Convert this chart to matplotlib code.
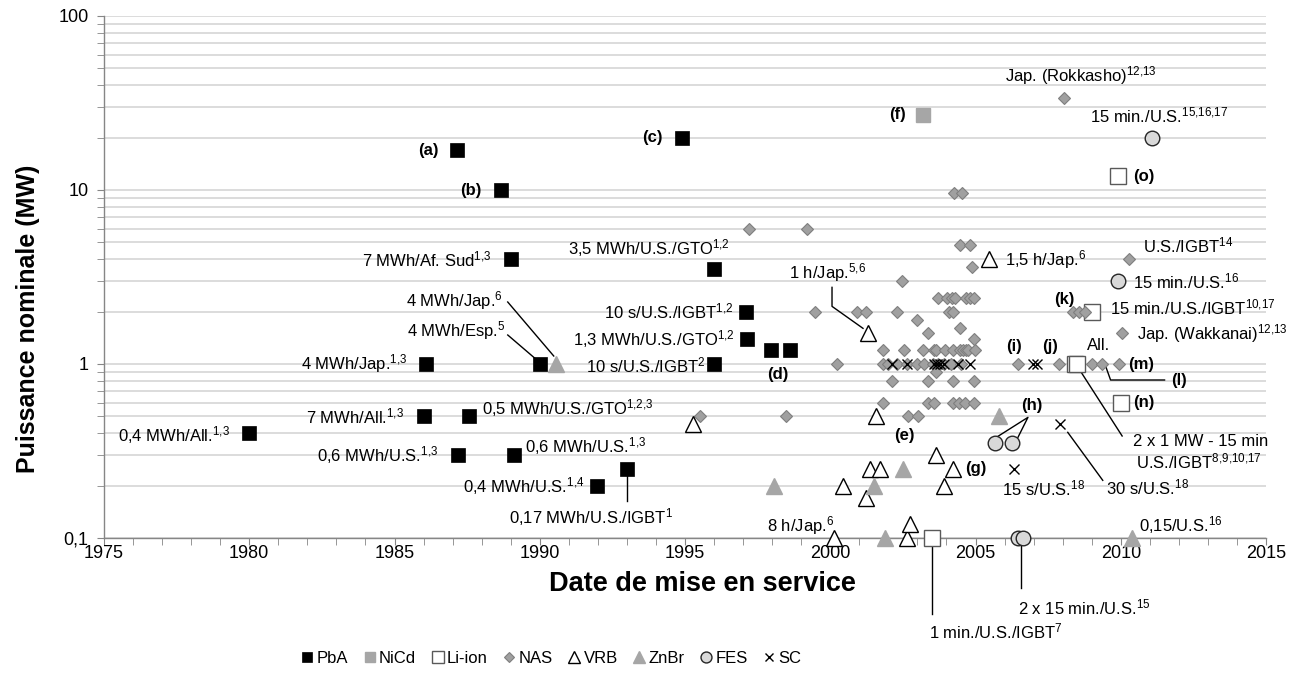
import numpy as np
import matplotlib.pyplot as plt
from matplotlib.ticker import FixedLocator, MultipleLocator, FuncFormatter, NullFormatter

plt.rcParams['font.family'] = ['Liberation Sans', 'DejaVu Sans']
plt.rcParams['mathtext.fontset'] = 'custom'
plt.rcParams['mathtext.rm'] = 'Liberation Sans'
plt.rcParams['mathtext.it'] = 'Liberation Sans:italic'
plt.rcParams['mathtext.bf'] = 'Liberation Sans:bold'

#--- donnees (annee de mise en service, puissance en MW) ---#
pba_x = [1980.0, 1986.0, 1986.1, 1987.15, 1987.17, 1987.57, 1988.65, 1989.0, 1989.1, 1990.0,
         1991.96, 1993.0, 1994.9, 1996.0, 1996.0, 1997.1, 1997.15, 1997.96, 1998.6]
pba_y = [0.4, 0.5, 1.0, 17, 0.3, 0.5, 10, 4.0, 0.3, 1.0,
         0.2, 0.25, 20, 3.5, 1.0, 2.0, 1.4, 1.2, 1.2]

nicd_x = [2003.2]
nicd_y = [27]

liion_x = [2003.5, 2008.43, 2008.5, 2009.0, 2009.92, 2010.0]
liion_y = [0.1, 1.0, 1.0, 2.0, 12, 0.6]

nas_x = [1995.5, 1997.2, 1998.46, 1999.2, 1999.47, 2000.22, 2000.93, 2001.23,
         2001.81, 2002.55, 2003.2, 2003.57, 2003.64, 2003.95, 2004.23, 2004.47, 2004.58, 2004.67, 2004.75, 2004.98,
         2001.81, 2002.0, 2002.31, 2002.65, 2002.98, 2003.23, 2003.55, 2003.7, 2003.9, 2004.15, 2004.5,
         2006.47, 2007.88, 2009.02, 2009.34, 2009.94,
         2003.64, 2002.11, 2003.37, 2004.21, 2004.95,
         2001.81, 2003.37, 2003.57, 2004.21, 2004.43, 2004.65, 2004.95,
         2002.68, 2003.03, 2004.95, 2003.37, 2010.03, 2004.47, 2002.98,
         2002.31, 2004.1, 2004.21, 2008.37, 2008.57, 2008.77,
         2003.7, 2004.03, 2004.18, 2004.29, 2004.67, 2004.81, 2004.95,
         2002.47, 2004.88, 2010.3, 2004.47, 2004.8, 2004.26, 2004.55, 2008.05]
nas_y = [0.5, 6.0, 0.5, 6.0, 2.0, 1.0, 2.0, 2.0,
         1.2, 1.2, 1.2, 1.2, 1.2, 1.2, 1.2, 1.2, 1.2, 1.2, 1.2, 1.2,
         1.0, 1.0, 1.0, 1.0, 1.0, 1.0, 1.0, 1.0, 1.0, 1.0, 1.0,
         1.0, 1.0, 1.0, 1.0, 1.0,
         0.9, 0.8, 0.8, 0.8, 0.8,
         0.6, 0.6, 0.6, 0.6, 0.6, 0.6, 0.6,
         0.5, 0.5, 1.4, 1.5, 1.5, 1.6, 1.8,
         2.0, 2.0, 2.0, 2.0, 2.0, 2.0,
         2.4, 2.4, 2.4, 2.4, 2.4, 2.4, 2.4,
         3.0, 3.6, 4.0, 4.8, 4.8, 9.6, 9.6, 34]

vrb_x = [1995.26, 2000.14, 2000.45, 2001.23, 2001.3, 2001.37, 2001.57, 2001.71,
         2002.65, 2002.74, 2003.64, 2003.9, 2004.23, 2005.47]
vrb_y = [0.45, 0.1, 0.2, 0.17, 1.5, 0.25, 0.5, 0.25,
         0.1, 0.12, 0.3, 0.2, 0.25, 4.0]

znbr_x = [1990.55, 1998.06, 2001.5, 2001.88, 2002.5, 2005.8, 2010.4]
znbr_y = [1.0, 0.2, 0.2, 0.1, 0.25, 0.5, 0.1]

fes_x = [2005.67, 2006.24, 2006.47, 2006.64, 2009.92, 2011.09]
fes_y = [0.35, 0.35, 0.1, 0.1, 3.0, 20]

sc_x = [2002.11, 2002.65, 2003.57, 2003.68, 2003.78, 2003.91, 2004.41, 2004.81,
        2006.99, 2007.12, 2006.32, 2007.9]
sc_y = [1.0, 1.0, 1.0, 1.0, 1.0, 1.0, 1.0, 1.0,
        1.0, 1.0, 0.25, 0.45]

#--- etiquettes: texte, point de reference, decalage (pixels), alignement, gras ---#
S = lambda s: r'$^{\mathregular{' + s.replace(',', '{,}') + '}}$'
labels = [
    ("(a)", 1987.15, 17, -18, -1, 'right', True),
    ("(b)", 1988.65, 10, -19, -1, 'right', True),
    ("7 MWh/Af. Sud" + S("1,3"), 1989.0, 4.0, -19, 0, 'right', False),
    ("(c)", 1994.9, 20, -19, 0, 'right', True),
    ("3,5 MWh/U.S./GTO" + S("1,2"), 1996.0, 3.5, 16, 21, 'right', False),
    ("1 h/Jap." + S("5,6"), 2001.3, 1.5, -2, 61, 'right', False),
    ("4 MWh/Jap." + S("6"), 1990.55, 1.0, -53, 63, 'right', False),
    ("4 MWh/Esp." + S("5"), 1990.0, 1.0, -34, 33, 'right', False),
    ("4 MWh/Jap." + S("1,3"), 1986.1, 1.0, -19, 0, 'right', False),
    ("7 MWh/All." + S("1,3"), 1986.0, 0.5, -19, 0, 'right', False),
    ("0,4 MWh/All." + S("1,3"), 1980.0, 0.4, -19, -2, 'right', False),
    ("0,6 MWh/U.S." + S("1,3"), 1987.17, 0.3, -19, 0, 'right', False),
    ("0,5 MWh/U.S./GTO" + S("1,2,3"), 1987.57, 0.5, 13, 8, 'left', False),
    ("0,6 MWh/U.S." + S("1,3"), 1989.1, 0.3, 11, 9, 'left', False),
    ("0,4 MWh/U.S." + S("1,4"), 1991.96, 0.2, -12, 0, 'right', False),
    ("0,17 MWh/U.S./IGBT" + S("1"), 1993.0, 0.25, -36, -48, 'center', False),
    ("10 s/U.S./IGBT" + S("1,2"), 1997.1, 2.0, -12, 0, 'right', False),
    ("1,3 MWh/U.S./GTO" + S("1,2"), 1997.15, 1.4, -13, 0, 'right', False),
    ("10 s/U.S./IGBT" + S("2"), 1996.0, 1.0, -8, -1, 'right', False),
    ("(d)", 1997.96, 1.2, 7, -24, 'center', True),
    ("8 h/Jap." + S("6"), 2000.14, 0.1, 0, 12, 'right', False),
    ("(f)", 2003.2, 27, -17, 0, 'right', True),
    ("Jap. (Rokkasho)" + S("12,13"), 2008.05, 34, 17, 22, 'center', False),
    ("15 min./U.S." + S("15,16,17"), 2011.09, 20, 7, 22, 'center', False),
    ("(o)", 2009.92, 12, 15, 0, 'left', True),
    ("1,5 h/Jap." + S("6"), 2005.47, 4.0, 16, 0, 'left', False),
    ("U.S./IGBT" + S("14"), 2010.3, 4.0, 14, 14, 'left', False),
    ("15 min./U.S." + S("16"), 2009.92, 3.0, 15, 0, 'left', False),
    ("(k)", 2009.0, 2.0, -17, 12, 'right', True),
    ("15 min./U.S./IGBT" + S("10,17"), 2009.0, 2.0, 18, 4, 'left', False),
    ("Jap. (Wakkanai)" + S("12,13"), 2010.03, 1.5, 15, 0, 'left', False),
    ("(i)", 2006.47, 1.0, -4, 18, 'center', True),
    ("(j)", 2006.99, 1.0, 17, 18, 'center', True),
    ("All.", 2008.43, 1.0, 23, 19, 'center', False),
    ("(m)", 2009.94, 1.0, 9, 0, 'left', True),
    ("(l)", 2009.34, 1.0, 70, -16, 'left', True),
    ("(n)", 2010.0, 0.6, 12, 0, 'left', True),
    ("2 x 1 MW - 15 min", 2008.43, 1.0, 125, -77, 'center', False),
    ("U.S./IGBT" + S("8,9,10,17"), 2008.43, 1.0, 124, -97, 'center', False),
    ("(h)", 2005.67, 0.35, 37, 38, 'center', True),
    ("(g)", 2004.23, 0.25, 12, 0, 'left', True),
    ("15 s/U.S." + S("18"), 2006.32, 0.25, 30, -20, 'center', False),
    ("30 s/U.S." + S("18"), 2007.9, 0.45, 46, -63, 'left', False),
    ("0,15/U.S." + S("16"), 2010.4, 0.1, 7, 13, 'left', False),
    ("1 min./U.S./IGBT" + S("7"), 2003.5, 0.1, -3, -93, 'left', False),
    ("2 x 15 min./U.S." + S("15"), 2006.47, 0.1, 0, -69, 'left', False),
]

# traits de rappel: point de reference + sommets en pixels
leaders = [
    (2001.3, 1.5, [(-36, 46), (-36, 27), (-5, 5)]),
    (1990.55, 1.0, [(-48, 62), (-2, 8)]),
    (1990.0, 1.0, [(-32, 29), (-4, 5)]),
    (1993.0, 0.25, [(0, -7), (0, -32)]),
    (2009.34, 1.0, [(4, -2), (9, -16), (63, -16)]),
    (2008.43, 1.0, [(2, -2), (47, -72)]),
    (2005.67, 0.35, [(3, 7), (33, 26), (23, 6)]),
    (2007.9, 0.45, [(8, -8), (43, -56)]),
    (2003.5, 0.1, [(0, -7), (0, -76)]),
    (2006.47, 0.1, [(3, -4), (3, -50)]),
]

fig = plt.figure(figsize=(13.06, 6.73), dpi=100)
ax = fig.add_axes([104/1306, 1-538/673, 1162/1306, 522/673])
ax.set_yscale('log')
ax.set_xlim(1975, 2015)
ax.set_ylim(0.1, 100)

kw = dict(linestyle='none', clip_on=False)
h1, = ax.plot(pba_x, pba_y, marker='s', ms=9.5, mfc='black', mec='black', mew=0.5, label='PbA', zorder=3, **kw)
h2, = ax.plot(nicd_x, nicd_y, marker='s', ms=9.5, mfc='#a6a6a6', mec='#a6a6a6', label='NiCd', zorder=3, **kw)
h3, = ax.plot(liion_x, liion_y, marker='s', ms=11.5, mfc='white', mec='#595959', mew=1.0, label='Li-ion', zorder=3, **kw)
h4, = ax.plot(nas_x, nas_y, marker='D', ms=6.5, mfc='#a0a0a0', mec='#7f7f7f', mew=0.8, label='NAS', zorder=4, **kw)
h5, = ax.plot(vrb_x, vrb_y, marker='^', ms=12, mfc='white', mec='black', mew=1.0, label='VRB', zorder=5, **kw)
h6, = ax.plot(znbr_x, znbr_y, marker='^', ms=12, mfc='#a6a6a6', mec='#a6a6a6', label='ZnBr', zorder=5, **kw)
h7, = ax.plot(fes_x, fes_y, marker='o', ms=10.5, mfc='#d9d9d9', mec='#262626', mew=1.0, label='FES', zorder=6, **kw)
h8, = ax.plot(sc_x, sc_y, marker='x', ms=7.5, mec='black', mew=1.0, label='SC', zorder=7, **kw)

# axes
ax.yaxis.set_major_locator(FixedLocator([0.1, 1, 10, 100]))
ax.yaxis.set_minor_locator(FixedLocator([m * 10.0**k for k in (-1, 0, 1) for m in range(2, 10)]))
ax.yaxis.set_major_formatter(FuncFormatter(lambda v, p: ('%g' % v).replace('.', ',')))
ax.yaxis.set_minor_formatter(NullFormatter())
ax.xaxis.set_major_locator(MultipleLocator(5))
ax.xaxis.set_minor_locator(MultipleLocator(1))
ax.grid(True, which='both', axis='y', color='#d9d9d9', lw=1.3, zorder=0)
ax.set_axisbelow(True)
for s in ['top', 'right']:
    ax.spines[s].set_visible(False)
for s in ['left', 'bottom']:
    ax.spines[s].set_color('#868686')
    ax.spines[s].set_linewidth(1.0)
ax.tick_params(which='both', direction='out', length=5, color='#868686', labelsize=13)
ax.tick_params(axis='x', pad=0)
ax.tick_params(axis='y', pad=6)

ax.set_xlabel('Date de mise en service', fontsize=19.5, fontweight='bold')
ax.set_ylabel('Puissance nominale (MW)', fontsize=18, fontweight='bold')
ax.xaxis.set_label_coords(0.515, -0.063)
ax.yaxis.set_label_coords(-0.055, 0.42)

for txt, x, y, dx, dy, ha, bold in labels:
    ax.annotate(txt, (x, y), xytext=(dx, dy), textcoords='offset pixels',
                ha=ha, va='center', fontsize=12, fontweight='bold' if bold else 'normal',
                annotation_clip=False, zorder=8)

ax.text(2002.54, 0.39, '(e)', ha='center', va='center', fontsize=12, fontweight='bold')

inv = ax.transData.inverted()
for x, y, pts in leaders:
    bx, by = ax.transData.transform((x, y))
    xy = inv.transform([(bx + dx, by + dy) for dx, dy in pts])
    ax.plot(xy[:, 0], xy[:, 1], color='black', lw=1.0, clip_on=False, zorder=2)

fig.legend(handles=[h1, h2, h3, h4, h5, h6, h7, h8], loc='center', bbox_to_anchor=(0.422, 0.022),
           ncol=8, frameon=False, fontsize=12, markerscale=0.75, handlelength=0.8,
           handletextpad=0.15, columnspacing=0.9, numpoints=1)

fig.savefig('out.png', dpi=100)
